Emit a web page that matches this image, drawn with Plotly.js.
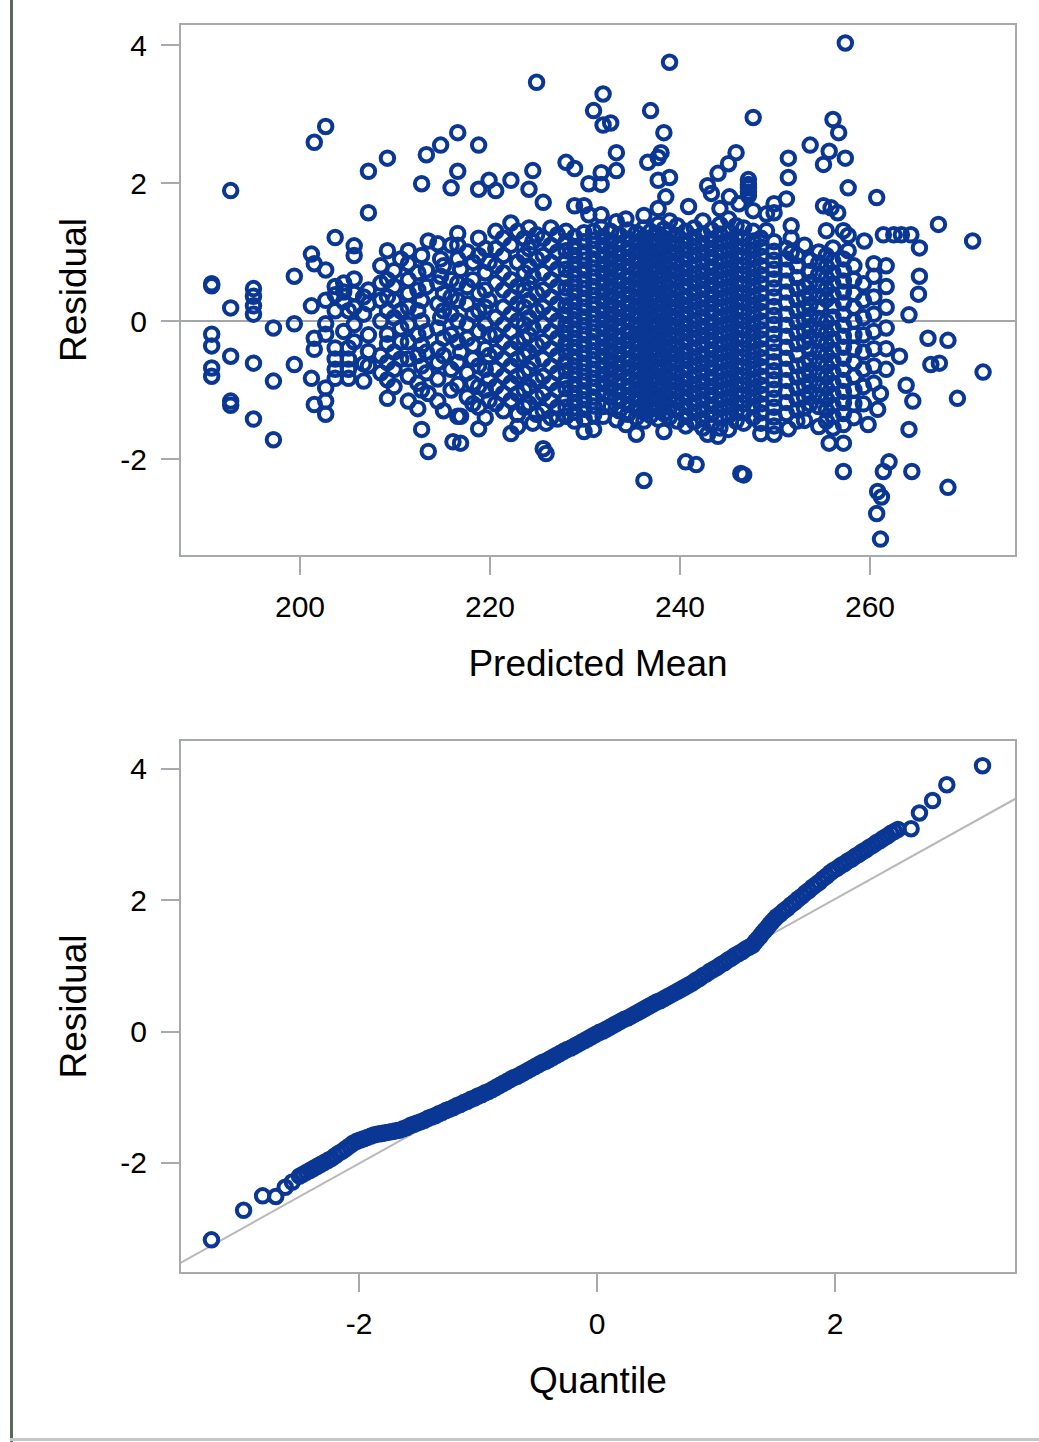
<!DOCTYPE html>
<html><head><meta charset="utf-8">
<script src="https://cdn.plot.ly/plotly-3.0.1.min.js"></script>
<style>
html,body{margin:0;padding:0;background:#fff;}
#wrap{position:relative;width:1039px;height:1442px;overflow:hidden;}
#chart{position:absolute;left:0;top:0;width:1039px;height:1442px;}
#edgeL{position:absolute;left:10px;top:0;width:3px;height:1442px;background:#56695a;}
#edgeB{position:absolute;left:10px;top:1438px;width:1029px;height:3px;background:#c4c6c8;}
</style></head><body>
<div id="wrap"><div id="chart"></div><div id="edgeL"></div><div id="edgeB"></div></div>
<script>
// ---- Residual vs Predicted Mean: [predicted mean, [residuals at that predicted mean]] ----
const leftGroups = [
 [190.7,[0.54,0.51,-0.19,-0.36,-0.68,-0.8]],
 [192.7,[1.89,0.19,-0.51,-1.16,-1.22]],
 [195.1,[0.47,0.36,0.22,0.1,-0.61,-1.42]],
 [197.2,[-0.1,-0.87,-1.72]],
 [199.4,[0.65,-0.04,-0.63]],
 [201.2,[0.97,0.22,-0.83]],
 [201.5,[2.59,0.83,-0.25,-0.41,-1.21]],
 [202.7,[2.82,0.74,0.3,-0.04,-0.19,-0.97,-1.16,-1.35]],
 [203.7,[1.21,0.5,0.38,0.15,-0.39,-0.55,-0.7,-0.83]],
 [204.6,[0.55,0.42,0.28,-0.15]],
 [205.1,[0.15,-0.39,-0.55,-0.7,-0.83]],
 [205.7,[1.09,0.95,0.61,0.4,0.2,-0.05,-0.3]],
 [206.7,[0.35,0.1,-0.62,-0.87]],
 [207.2,[2.17,1.57,0.45,0.25,-0.2,-0.44,-0.65]],
 [208.5,[0.8,0.55,0.3,0.0,-0.5,-0.75]],
 [209.2,[2.36,1.02,0.6,0.35,0.15,-0.19,-0.33,-0.6,-0.85,-1.12]],
 [209.9,[0.73,0.5,0.3,0.05,-0.45,-0.7,-0.95]],
 [210.6,[0.9,0.15,-0.1,-0.3,-0.55]],
 [211.4,[1.02,0.83,0.6,0.4,0.2,-0.05,-0.3,-0.55,-0.8,-1.16]]
];
const midGroups = [
 [212.4,[0.7,0.45,0.15,-0.2,-0.5,-0.9,-1.27]],
 [212.8,[1.99,0.95,0.3,0.0,-0.35,-0.65,-1.0,-1.57]],
 [213.3,[2.41,0.74,0.5,-0.15,-0.45,-0.75]],
 [213.5,[1.16,-1.05,-1.89]],
 [214.5,[1.12,0.55,0.25,-0.1,-0.4,-0.6,-0.84,-1.16]],
 [214.8,[2.55,0.9,0.65,0.05]],
 [215.1,[0.8,0.4,0.15,-0.25,-0.5,-1.3]],
 [215.9,[1.93,1.1,0.6,0.35,0.1,-0.2,-0.7,-1.0]],
 [216.1,[-1.75]],
 [216.6,[2.73,2.17,1.27,1.1,0.9,0.55,0.3,0.0,-0.3,-0.6,-0.92,-1.38]],
 [216.9,[0.75,-0.45,-1.38,-1.77]],
 [217.6,[1.0,0.5,0.25,-0.05,-0.25,-0.75,-1.1]],
 [218.2,[0.85,0.6,0.1,-0.35,-0.55,-0.9,-1.2]],
 [218.8,[2.55,1.91,1.2,0.95,0.4,0.15,-0.15,-0.65,-0.95,-1.25,-1.56]],
 [219.5,[1.05,0.7,0.45,0.2,-0.05,-0.4,-0.7,-1.0,-1.4]],
 [219.9,[2.04,0.85,0.3,-0.2,-0.5,-0.85,-1.15]],
 [220.6,[1.89,1.3,1.05,0.8,0.55,0.05,-0.2,-0.45,-0.7,-0.95,-1.2]],
 [221.4,[1.2,0.95,0.7,0.45,0.2,-0.05,-0.3,-0.55,-0.8,-1.05,-1.3]],
 [222.2,[2.04,1.42,1.1,0.6,0.35,0.1,-0.15,-0.4,-0.65,-0.9,-1.15,-1.63]],
 [222.9,[1.3,0.85,0.5,0.25,0.0,-0.3,-0.55,-0.8,-1.05,-1.35,-1.53]],
 [223.6,[1.2,0.95,0.7,0.45,0.2,-0.05,-0.25,-0.5,-0.75,-1.0,-1.25]],
 [224.1,[1.91,1.35,1.05,0.8,0.55,0.3,0.05,-0.2,-0.45,-0.7,-0.95,-1.2]],
 [224.5,[2.18,1.15,0.65,-0.1,-0.6,-1.48]],
 [224.9,[3.46,1.25,0.9,0.4,0.15,-0.35,-0.85,-1.1,-1.35]],
 [225.6,[1.72,1.2,0.95,0.7,0.45,0.2,-0.05,-0.3,-0.55,-0.8,-1.05,-1.3,-1.85]],
 [225.9,[-1.48,-1.92]],
 [226.4,[1.35,1.1,0.85,0.6,0.35,0.1,-0.15,-0.4,-0.65,-0.9,-1.15,-1.4]],
 [227.1,[1.25,1.0,0.75,0.5,0.25,0.0,-0.25,-0.5,-0.75,-1.0,-1.25,-1.42]]
];
const coreGroups = [
 [228.0,[2.3,1.3,1.15,1.02,0.88,0.75,0.62,0.48,0.35,0.22,0.08,-0.05,-0.18,-0.32,-0.45,-0.58,-0.72,-0.85,-0.98,-1.12,-1.25,-1.38]],
 [228.9,[2.21,1.67,1.22,1.08,0.95,0.82,0.68,0.55,0.42,0.28,0.15,0.02,-0.12,-0.25,-0.38,-0.52,-0.65,-0.78,-0.92,-1.05,-1.18,-1.32,-1.45]],
 [229.9,[1.67,1.28,1.15,1.0,0.88,0.74,0.6,0.47,0.33,0.2,0.06,-0.07,-0.2,-0.34,-0.47,-0.61,-0.74,-0.87,-1.01,-1.14,-1.28,-1.42,-1.6]],
 [230.4,[1.99,1.54]],
 [230.9,[3.05,1.3,1.17,1.04,0.9,0.77,0.64,0.5,0.37,0.24,0.1,-0.03,-0.16,-0.3,-0.43,-0.56,-0.7,-0.83,-0.96,-1.1,-1.23,-1.36,-1.57]],
 [231.7,[2.15,1.98,1.54,1.35]],
 [231.9,[3.29,2.84,1.22,1.09,0.95,0.82,0.69,0.55,0.42,0.29,0.15,0.02,-0.11,-0.25,-0.38,-0.51,-0.65,-0.78,-0.91,-1.05,-1.24,-1.38]],
 [232.7,[2.87,1.3,1.16,1.03,0.9,0.76,0.63,0.5,0.36,0.23,0.1,-0.04,-0.17,-0.3,-0.44,-0.57,-0.7,-0.84,-0.97,-1.1,-1.24]],
 [233.3,[2.44,2.18,1.44,-1.43]],
 [233.6,[1.25,1.12,0.98,0.85,0.72,0.58,0.45,0.32,0.18,0.05,-0.08,-0.22,-0.35,-0.48,-0.62,-0.75,-0.88,-1.02,-1.15,-1.3]],
 [234.3,[1.48,-1.5]],
 [234.5,[1.32,1.19,1.05,0.92,0.79,0.65,0.52,0.39,0.25,0.12,-0.01,-0.15,-0.28,-0.41,-0.55,-0.68,-0.81,-0.95,-1.08,-1.21,-1.35]],
 [235.4,[1.28,1.14,1.01,0.88,0.74,0.61,0.48,0.34,0.21,0.08,-0.06,-0.19,-0.32,-0.46,-0.59,-0.72,-0.86,-0.99,-1.12,-1.26,-1.4,-1.64]],
 [236.2,[1.53,1.35,1.21,1.08,0.95,0.81,0.68,0.55,0.41,0.28,0.15,0.01,-0.12,-0.25,-0.39,-0.52,-0.65,-0.79,-0.92,-1.05,-1.19,-1.32,-1.45,-2.31]],
 [236.6,[2.3]],
 [236.9,[3.05,1.3,1.17,1.03,0.9,0.77,0.63,0.5,0.37,0.23,0.1,-0.03,-0.17,-0.3,-0.43,-0.57,-0.7,-0.83,-0.97,-1.1,-1.23,-1.37]],
 [237.7,[2.37,2.04,1.63,1.4,1.26,1.12,0.99,0.86,0.72,0.59,0.46,0.32,0.19,0.06,-0.08,-0.21,-0.34,-0.48,-0.61,-0.74,-0.88,-1.01,-1.14,-1.28,-1.42]],
 [238.0,[2.44]],
 [238.3,[2.73,1.33,1.2,1.06,0.93,0.8,0.66,0.53,0.4,0.26,0.13,0.0,-0.14,-0.27,-0.4,-0.54,-0.67,-0.8,-0.94,-1.07,-1.2,-1.34,-1.6]],
 [238.5,[1.8]],
 [238.9,[3.75,2.08,1.45,1.28,1.15,1.01,0.88,0.75,0.61,0.48,0.35,0.21,0.08,-0.05,-0.19,-0.32,-0.45,-0.59,-0.72,-0.85,-0.99,-1.12,-1.25,-1.39]],
 [239.7,[1.38,1.24,1.11,0.98,0.84,0.71,0.58,0.44,0.31,0.18,0.04,-0.09,-0.22,-0.36,-0.49,-0.62,-0.76,-0.89,-1.02,-1.16,-1.29,-1.45]],
 [240.6,[1.3,1.16,1.03,0.9,0.76,0.63,0.5,0.36,0.23,0.1,-0.04,-0.17,-0.3,-0.44,-0.57,-0.7,-0.84,-0.97,-1.1,-1.24,-1.38,-1.52,-2.04]],
 [240.9,[1.66]],
 [241.5,[1.35,1.21,1.08,0.95,0.81,0.68,0.55,0.41,0.28,0.15,0.01,-0.12,-0.25,-0.39,-0.52,-0.65,-0.79,-0.92,-1.05,-1.19,-1.32,-1.46]],
 [241.7,[-2.08]],
 [242.4,[1.45,1.26,1.12,0.99,0.86,0.72,0.59,0.46,0.32,0.19,0.06,-0.08,-0.21,-0.34,-0.48,-0.61,-0.74,-0.88,-1.01,-1.14,-1.28,-1.42,-1.55]],
 [242.9,[1.96,-1.64]],
 [243.3,[1.85,1.32,1.18,1.05,0.92,0.78,0.65,0.52,0.38,0.25,0.12,-0.02,-0.15,-0.28,-0.42,-0.55,-0.68,-0.82,-0.95,-1.08,-1.22,-1.35,-1.5]],
 [244.0,[2.14,-1.67]],
 [244.2,[1.63,1.4,1.26,1.13,1.0,0.86,0.73,0.6,0.46,0.33,0.2,0.06,-0.07,-0.2,-0.34,-0.47,-0.6,-0.74,-0.87,-1.0,-1.14,-1.27,-1.4,-1.55]],
 [245.1,[2.28,1.48,1.3,1.17,1.03,0.9,0.77,0.63,0.5,0.37,0.23,0.1,-0.03,-0.17,-0.3,-0.43,-0.57,-0.7,-0.83,-0.97,-1.1,-1.23,-1.37,-1.57]],
 [245.2,[1.8]],
 [245.9,[2.44,1.38,1.22,1.09,0.96,0.82,0.69,0.56,0.42,0.29,0.16,0.02,-0.11,-0.24,-0.38,-0.51,-0.64,-0.78,-0.91,-1.04,-1.18,-1.31,-1.45]],
 [246.2,[1.7]],
 [246.4,[-2.21]],
 [246.7,[-2.23,1.35,1.2,1.07,0.93,0.8,0.67,0.53,0.4,0.27,0.13,0.0,-0.13,-0.27,-0.4,-0.53,-0.67,-0.8,-0.93,-1.07,-1.2,-1.33,-1.48]],
 [247.2,[2.05,1.98,1.93,1.87,1.82]],
 [247.7,[2.95,1.6,1.3,1.16,1.03,0.9,0.76,0.63,0.5,0.36,0.23,0.1,-0.04,-0.17,-0.3,-0.44,-0.57,-0.7,-0.84,-0.97,-1.1,-1.24,-1.4]],
 [248.5,[1.2,1.07,0.94,0.8,0.67,0.54,0.4,0.27,0.14,0.0,-0.13,-0.26,-0.4,-0.53,-0.66,-0.8,-0.93,-1.06,-1.2,-1.33,-1.48,-1.63]],
 [249.1,[1.55,1.31]],
 [249.9,[1.7,1.57,1.15,1.01,0.88,0.75,0.61,0.48,0.35,0.21,0.08,-0.05,-0.19,-0.32,-0.45,-0.59,-0.72,-0.85,-0.99,-1.12,-1.25,-1.39,-1.52,-1.64]]
];
const rightGroups = [
 [251.2,[1.77,1.05,0.9,0.74,0.58,0.42,0.26,0.1,-0.06,-0.22,-0.38,-0.54,-0.7,-0.86,-1.02,-1.18,-1.34]],
 [251.4,[2.36,2.08,-1.56]],
 [251.7,[1.38,1.2,0.99]],
 [252.3,[0.95,0.8,0.63,0.47,0.31,0.15,-0.01,-0.17,-0.33,-0.49,-0.65,-0.81,-0.97,-1.13,-1.29,-1.45]],
 [253.1,[1.1,0.5,0.34,0.18,0.02,-0.14,-0.3,-0.62,-0.78,-0.94,-1.1,-1.26,-1.44]],
 [253.7,[2.55,0.88,0.72,0.56,0.4,0.24,0.08,-0.08,-0.24,-0.4,-0.56,-0.72,-0.88,-1.04,-1.2]],
 [254.6,[1.0,0.84,0.68,0.52,0.36,0.2,0.04,-0.12,-0.28,-0.44,-0.6,-0.76,-0.92,-1.08,-1.24,-1.53]],
 [255.1,[2.27,1.67]],
 [255.4,[1.31,0.95,0.79,0.63,0.47,0.31,-0.01,-0.17,-0.33,-0.49,-0.65,-0.81,-0.97,-1.13,-1.29,-1.45]],
 [255.7,[2.46,-1.77]],
 [255.9,[1.64]],
 [256.1,[2.92,1.06,0.86,0.7,0.54,0.38,0.22,0.06,-0.1,-0.26,-0.42,-0.58,-0.74,-0.9,-1.06,-1.22,-1.38,-1.55]],
 [256.6,[1.57]],
 [256.7,[2.73]],
 [257.2,[1.31,0.9,0.74,0.58,0.42,0.26,0.1,-0.06,-0.22,-0.38,-0.54,-0.7,-0.86,-1.02,-1.18,-1.34,-1.5,-1.77,-2.18]],
 [257.4,[4.03,2.36]],
 [257.7,[1.93,1.24,1.02]],
 [258.3,[0.8,0.6,0.4,0.2,0.0,-0.2,-0.4,-0.6,-0.8,-1.0,-1.2,-1.4]],
 [259.3,[0.54,0.3,0.05,-0.2,-0.45,-0.7,-0.95,-1.2]],
 [259.4,[1.16]],
 [259.8,[-1.5]],
 [260.4,[0.83,0.65,0.35,0.1,-0.15,-0.4,-0.65,-0.9]],
 [260.7,[1.79,-2.79]],
 [260.8,[-1.28,-2.47]],
 [261.1,[-1.05,-3.16]],
 [261.2,[-2.55]],
 [261.4,[1.25,-2.18]],
 [261.7,[0.8,0.5,0.2,-0.1,-0.4,-0.7]],
 [262.0,[-2.04]],
 [262.5,[1.25]],
 [263.1,[-0.51]],
 [263.3,[1.25]],
 [263.8,[-0.93]],
 [264.1,[0.09,-1.57]],
 [264.3,[1.25]],
 [264.4,[-2.18]],
 [264.5,[-1.16]],
 [265.1,[0.39]],
 [265.2,[1.06,0.65]],
 [266.1,[-0.25]],
 [266.4,[-0.63]],
 [267.2,[1.4]],
 [267.3,[-0.61]],
 [268.2,[-0.28,-2.41]],
 [269.2,[-1.12]],
 [270.8,[1.16]],
 [271.9,[-0.74]]
];

// ---- Q-Q plot of residuals: [normal quantile, residual] ----
const qqLowerTail = [
 [-3.24,-3.17],[-2.97,-2.72],[-2.81,-2.50],[-2.70,-2.51],[-2.62,-2.37],[-2.56,-2.29]
];
const qqBody = [
 [-2.50,-2.20],[-2.47,-2.17],[-2.44,-2.14],[-2.41,-2.11],[-2.38,-2.08],[-2.35,-2.05],[-2.32,-2.02],
 [-2.29,-1.99],[-2.26,-1.96],[-2.23,-1.93],[-2.20,-1.89],[-2.17,-1.85],[-2.14,-1.82],[-2.11,-1.78],
 [-2.08,-1.74],[-2.05,-1.70],[-2.02,-1.67],[-1.99,-1.65],[-1.96,-1.63],[-1.93,-1.61],[-1.90,-1.59],
 [-1.87,-1.57],[-1.84,-1.56],[-1.81,-1.55],[-1.78,-1.54],[-1.75,-1.53],[-1.72,-1.52],[-1.69,-1.51],
 [-1.66,-1.50],[-1.63,-1.48],[-1.60,-1.46],[-1.57,-1.43],[-1.54,-1.41],[-1.51,-1.39],[-1.48,-1.37],
 [-1.45,-1.35],[-1.42,-1.32],[-1.39,-1.30],[-1.36,-1.28],[-1.33,-1.25],[-1.30,-1.23],[-1.27,-1.20],
 [-1.24,-1.18],[-1.21,-1.16],[-1.18,-1.13],[-1.15,-1.11],[-1.12,-1.08],[-1.09,-1.06],[-1.06,-1.03],
 [-1.03,-1.01],[-1.00,-0.98],[-0.97,-0.96],[-0.94,-0.93],[-0.91,-0.91],[-0.88,-0.88],[-0.85,-0.85],
 [-0.82,-0.82],[-0.79,-0.79],[-0.76,-0.76],[-0.73,-0.73],[-0.70,-0.70],[-0.67,-0.68],[-0.64,-0.65],
 [-0.61,-0.62],[-0.58,-0.59],[-0.55,-0.56],[-0.52,-0.53],[-0.49,-0.50],[-0.46,-0.47],[-0.43,-0.45],
 [-0.40,-0.42],[-0.37,-0.39],[-0.34,-0.36],[-0.31,-0.33],[-0.28,-0.30],[-0.25,-0.27],[-0.22,-0.25],
 [-0.19,-0.22],[-0.16,-0.19],[-0.13,-0.16],[-0.10,-0.13],[-0.07,-0.10],[-0.04,-0.07],[-0.01,-0.04],
 [0.02,-0.01],[0.05,0.01],[0.08,0.04],[0.11,0.07],[0.14,0.10],[0.17,0.13],[0.20,0.16],[0.23,0.19],
 [0.26,0.21],[0.29,0.24],[0.32,0.27],[0.35,0.30],[0.38,0.33],[0.41,0.36],[0.44,0.39],[0.47,0.42],
 [0.50,0.45],[0.53,0.47],[0.56,0.50],[0.59,0.53],[0.62,0.56],[0.65,0.59],[0.68,0.62],[0.71,0.65],
 [0.74,0.68],[0.77,0.71],[0.80,0.74],[0.83,0.78],[0.86,0.81],[0.89,0.85],[0.92,0.88],[0.95,0.92],
 [0.98,0.95],[1.01,0.98],[1.04,1.02],[1.07,1.05],[1.10,1.09],[1.13,1.12],[1.16,1.16],[1.19,1.19],
 [1.22,1.22],[1.25,1.26],[1.28,1.29],[1.31,1.32],[1.33,1.37],[1.35,1.41],[1.37,1.45],[1.39,1.50],
 [1.41,1.54],[1.43,1.58],[1.45,1.63],[1.47,1.67],[1.49,1.71],[1.51,1.75],[1.54,1.79],[1.57,1.84],
 [1.60,1.88],[1.63,1.93],[1.66,1.97],[1.69,2.02],[1.72,2.06],[1.75,2.11],[1.78,2.15],[1.81,2.20],
 [1.84,2.24],[1.87,2.28],[1.90,2.33],[1.93,2.37],[1.96,2.42],[1.99,2.46],[2.02,2.49],[2.05,2.53],
 [2.08,2.56],[2.11,2.60],[2.14,2.63],[2.17,2.67],[2.20,2.70],[2.23,2.74],[2.26,2.77],[2.29,2.81],
 [2.32,2.84],[2.35,2.88],[2.38,2.91],[2.41,2.95],[2.44,2.98],[2.47,3.02],[2.50,3.05],[2.53,3.08]
];
const qqUpperTail = [
 [2.64,3.09],[2.71,3.33],[2.82,3.52],[2.94,3.76],[3.24,4.05]
];
const refLineQuantile = [-3.5, 3.52];
const refLineResidual = [-3.52, 3.55];

// ---- tick values and labels ----
const predTicks = [200, 220, 240, 260];
const residTicks = [-2, 0, 2, 4];
const residTickLabels = ['-2', '0', '2', '4'];
const quantTicks = [-2, 0, 2];
const quantTickLabels = ['-2', '0', '2'];

function flatten(groupLists){
  const xs = [], ys = [];
  groupLists.forEach(function(groups){
    groups.forEach(function(g){ g[1].forEach(function(r){ xs.push(g[0]); ys.push(r); }); });
  });
  return {x: xs, y: ys};
}
const topData = flatten([leftGroups, midGroups, coreGroups, rightGroups]);
const qqAll = qqLowerTail.concat(qqBody, qqUpperTail);

const BLUE = '#0a3794';
const AX = '#a6a9ad';
const mk = {symbol:'circle-open', size:13.5, color:BLUE, line:{width:4, color:BLUE}};

const traces = [
  {type:'scatter', mode:'markers', x:topData.x, y:topData.y, xaxis:'x', yaxis:'y', marker:mk, hoverinfo:'skip'},
  {type:'scatter', mode:'lines', x:refLineQuantile, y:refLineResidual, xaxis:'x2', yaxis:'y2',
   line:{color:'#b8b8b8', width:2}, hoverinfo:'skip'},
  {type:'scatter', mode:'markers', x:qqAll.map(p=>p[0]), y:qqAll.map(p=>p[1]), xaxis:'x2', yaxis:'y2', marker:mk, hoverinfo:'skip'}
];

function axisBase(){
  return {showline:true, mirror:true, linecolor:AX, linewidth:2, showgrid:false, zeroline:false,
    ticks:'outside', ticklen:18, tickwidth:2, tickcolor:AX, automargin:false,
    tickfont:{size:30, color:'#000'}};
}
const layout = {
  width:1039, height:1442,
  margin:{l:181, r:24, t:25, b:170},
  paper_bgcolor:'#fff', plot_bgcolor:'#fff',
  font:{family:'"Liberation Sans", Arial, sans-serif', color:'#000'},
  showlegend:false,
  xaxis: Object.assign(axisBase(), {domain:[0,1], anchor:'y', range:[187.47,275.26], tickvals:predTicks,
    ticklabelstandoff:6, title:{text:'Predicted Mean', font:{size:37}, standoff:28}}),
  yaxis: Object.assign(axisBase(), {domain:[0.575,1], anchor:'x', range:[-3.39,4.29], tickvals:residTicks,
    ticktext:residTickLabels, ticklabelstandoff:8, title:{text:'Residual', font:{size:37}, standoff:22}}),
  xaxis2: Object.assign(axisBase(), {domain:[0,1], anchor:'y2', range:[-3.496,3.513], tickvals:quantTicks,
    ticktext:quantTickLabels, ticklabelstandoff:6, title:{text:'Quantile', font:{size:37}, standoff:28}}),
  yaxis2: Object.assign(axisBase(), {domain:[0,0.4258], anchor:'x2', range:[-3.66,4.426], tickvals:residTicks,
    ticktext:residTickLabels, ticklabelstandoff:8, title:{text:'Residual', font:{size:37}, standoff:22}}),
  shapes:[{type:'line', xref:'x domain', yref:'y', x0:0, x1:1, y0:0, y1:0, layer:'below',
    line:{color:'#a3a6a9', width:2}}]
};
Plotly.newPlot('chart', traces, layout, {staticPlot:true, displayModeBar:false});
</script></body></html>
